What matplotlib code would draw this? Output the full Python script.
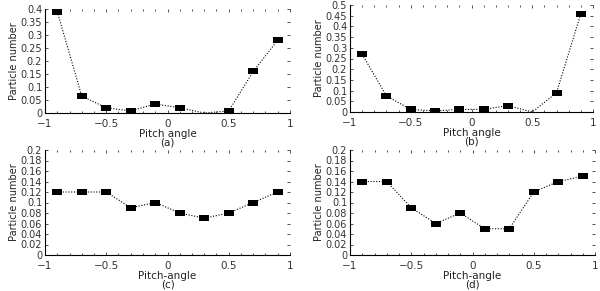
import matplotlib
matplotlib.use("Agg")
import matplotlib.pyplot as plt
import numpy as np

pitch = [-0.9, -0.7, -0.5, -0.3, -0.1, 0.1, 0.3, 0.5, 0.7, 0.9]
vals_a = [0.39, 0.065, 0.02, 0.008, 0.035, 0.02, 0.0, 0.008, 0.16, 0.28]
vals_b = [0.27, 0.075, 0.012, 0.005, 0.012, 0.012, 0.03, 0.0, 0.09, 0.46]
vals_c = [0.12, 0.12, 0.12, 0.09, 0.10, 0.08, 0.07, 0.08, 0.10, 0.12]
vals_d = [0.14, 0.14, 0.09, 0.06, 0.08, 0.05, 0.05, 0.12, 0.14, 0.15]

xlabels = ["Pitch angle", "Pitch angle", "Pitch-angle", "Pitch-angle"]
captions = ["(a)", "(b)", "(c)", "(d)"]
ylims = [0.4, 0.5, 0.2, 0.2]
ysteps = [0.05, 0.05, 0.02, 0.02]
series = [vals_a, vals_b, vals_c, vals_d]

W, H = 600, 291
fig = plt.figure(figsize=(6.0, 2.91), dpi=100)
boxes = [(45, 9, 290, 113), (350, 5, 593, 112), (45, 150, 290, 255), (350, 150, 595, 255)]
rect = [(-1, -0.6), (1, -0.6), (1, 0.6), (-1, 0.6), (-1, -0.6)]

for i, (l, t, r, b) in enumerate(boxes):
    ax = fig.add_axes([l / W, 1 - b / H, (r - l) / W, (b - t) / H])
    y = np.array(series[i])
    ax.plot(pitch, y, color="black", linestyle=(0, (1, 1.5)), linewidth=0.8)
    m = y > 0
    ax.plot(np.array(pitch)[m], y[m], linestyle="none", marker=rect,
            markersize=6.5, color="black", markeredgewidth=0)
    ax.set_xlim(-1, 1)
    ax.set_ylim(0, ylims[i])
    ax.set_xticks([-1, -0.5, 0, 0.5, 1])
    ax.set_xticklabels(["\u22121", "\u22120.5", "0", "0.5", "1"])
    yt = np.round(np.arange(0, ylims[i] + 1e-9, ysteps[i]), 3)
    ax.set_yticks(yt)
    ax.set_yticklabels(["0"] + [("%g" % v) for v in yt[1:]])
    ax.set_xticks(np.arange(-1, 1.001, 0.1), minor=True)
    ax.tick_params(axis="both", which="both", direction="in", top=True, right=True,
                   colors="#333333", length=2, width=0.6, pad=2)
    ax.tick_params(axis="x", which="major", pad=4.5, labelsize=7.5)
    ax.tick_params(axis="y", which="major", labelsize=7)
    ax.tick_params(which="minor", length=1.5)
    for s in ["top", "right"]:
        ax.spines[s].set_visible(False)
    for s in ["left", "bottom"]:
        ax.spines[s].set_linewidth(0.8)
    ax.set_ylabel("Particle number", fontsize=7, labelpad=1, color="#222222")
    ax.set_xlabel(xlabels[i] + "\n" + captions[i], fontsize=7.5, labelpad=0,
                  color="#222222", linespacing=0.75)

fig.savefig("out.png", dpi=100)
